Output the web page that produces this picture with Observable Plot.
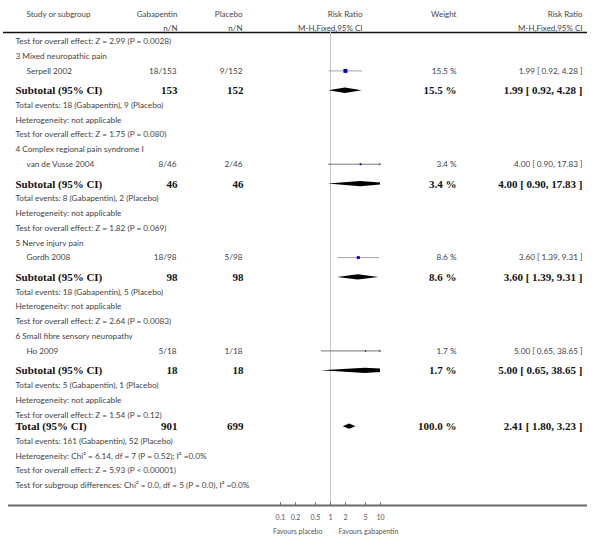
<!DOCTYPE html>
<html>
<head>
<meta charset="utf-8">
<script src="https://cdn.jsdelivr.net/npm/d3@7"></script>
<script src="https://cdn.jsdelivr.net/npm/@observablehq/plot@0.6"></script>
<style>
  html, body { margin: 0; padding: 0; background: #fff; }
  #chart svg { display: block; }
</style>
</head>
<body>
<div id="chart"></div>
<script>
// ---------- data ----------
const carryOver = "Test for overall effect: Z = 2.99 (P = 0.0028)";
const groups = ["3 Mixed neuropathic pain", "4 Complex regional pain syndrome I", "5 Nerve injury pain", "6 Small fibre sensory neuropathy"];
const studies = ["Serpell 2002", "van de Vusse 2004", "Gordh 2008", "Ho 2009"];
const gabaEvents = [18, 8, 18, 5];
const gabaTotal = [153, 46, 98, 18];
const placEvents = [9, 2, 5, 1];
const placTotal = [152, 46, 98, 18];
const rr = [1.99, 4.00, 3.60, 5.00];
const rrLow = [0.92, 0.90, 1.39, 0.65];
const rrHigh = [4.28, 17.83, 9.31, 38.65];
const weights = [15.5, 3.4, 8.6, 1.7];
const overallTests = ["Z = 1.75 (P = 0.080)", "Z = 1.82 (P = 0.069)", "Z = 2.64 (P = 0.0083)", "Z = 1.54 (P = 0.12)"];
const totalN = [901, 699];
const totalEvents = [161, 52];
const totalRR = [2.41, 1.80, 3.23];
const totalWeight = 100.0;
const totalHet = "Heterogeneity: Chi\u00B2 = 6.14, df = 7 (P = 0.52); I\u00B2 =0.0%";
const totalTest = "Test for overall effect: Z = 5.93 (P < 0.00001)";
const subgroupTest = "Test for subgroup differences: Chi\u00B2 = 0.0, df = 5 (P = 0.0), I\u00B2 =0.0%";
const tickValues = [0.1, 0.2, 0.5, 1, 2, 5, 10];
const tickLabels = ["0.1", "0.2", "0.5", "1", "2", "5", "10"];
const headers1 = ["Study or subgroup", "Gabapentin", "Placebo", "Risk Ratio", "Weight", "Risk Ratio"];
const headers2 = ["", "n/N", "n/N", "M-H,Fixed,95% CI", "", "M-H,Fixed,95% CI"];
const favours = ["Favours placebo", "Favours gabapentin"];

// ---------- layout ----------
const W = 601, H = 554;
const SANS = "Lato, 'Open Sans', 'DejaVu Sans', sans-serif";
const SERIF = "'Liberation Serif', 'Times New Roman', serif";
const TXT = "#444";
const SMALL = 8.2, BIG = 11;
const col = {note: 15, study: 26, gaba: 176, plac: 242, rrHead: 362, weight: 456, rrText: 582};
const headerCols = [{dx: col.study, a: "start"}, {dx: 177, a: "end"}, {dx: col.plac, a: "end"}, {dx: col.rrHead, a: "end"}, {dx: col.weight, a: "end"}, {dx: col.rrText, a: "end"}];
const diamondHalf = 0.18; // in row units
const xMax = 10, xMin = 0.1;

const fmtRR = (m, l, h) => `${m.toFixed(2)} [ ${l.toFixed(2)}, ${h.toFixed(2)} ]`;

// ---------- rows ----------
const rows = [];
let u = 0;
rows.push({kind: "note", y: u, label: carryOver});
const add = (step, r) => { u += step; r.y = u; rows.push(r); return r; };
const studyRows = [], subRows = [];
groups.forEach((g, i) => {
  add(1, {kind: "note", label: g});
  studyRows.push(add(1, {kind: "study", label: studies[i], gaba: `${gabaEvents[i]}/${gabaTotal[i]}`, plac: `${placEvents[i]}/${placTotal[i]}`,
    weight: `${weights[i].toFixed(1)} %`, rrText: fmtRR(rr[i], rrLow[i], rrHigh[i]), m: rr[i], lo: rrLow[i], hi: rrHigh[i], w: weights[i]}));
  subRows.push(add(1.35, {kind: "sub", label: "Subtotal (95% CI)", gaba: String(gabaTotal[i]), plac: String(placTotal[i]),
    weight: `${weights[i].toFixed(1)} %`, rrText: fmtRR(rr[i], rrLow[i], rrHigh[i]), m: rr[i], lo: rrLow[i], hi: rrHigh[i]}));
  add(1, {kind: "note", label: `Total events: ${gabaEvents[i]} (Gabapentin), ${placEvents[i]} (Placebo)`});
  add(1, {kind: "note", label: "Heterogeneity: not applicable"});
  add(1, {kind: "note", label: `Test for overall effect: ${overallTests[i]}`});
});
subRows.push(add(0.8, {kind: "sub", label: "Total (95% CI)", gaba: String(totalN[0]), plac: String(totalN[1]),
  weight: `${totalWeight.toFixed(1)} %`, rrText: fmtRR(totalRR[0], totalRR[1], totalRR[2]), m: totalRR[0], lo: totalRR[1], hi: totalRR[2]}));
add(1, {kind: "note", label: `Total events: ${totalEvents[0]} (Gabapentin), ${totalEvents[1]} (Placebo)`});
add(1, {kind: "note", label: totalHet});
add(1, {kind: "note", label: totalTest});
add(1, {kind: "note", label: subgroupTest});

// diamonds (clipped to the axis range, in log space)
const diamondPts = [];
subRows.forEach((r, k) => {
  const L = Math.log10, m = L(r.m), b = L(r.hi);
  const pts = [[r.lo, 0], [r.m, diamondHalf]];
  if (r.hi > xMax) {
    const t = (L(xMax) - m) / (b - m);
    pts.push([xMax, diamondHalf * (1 - t)]);
  } else pts.push([r.hi, 0]);
  pts.forEach(([x, h]) => diamondPts.push({id: k, x, y1: r.y - h, y2: r.y + h}));
});
const ciFull = studyRows.filter(r => r.hi <= xMax);
const ciClip = studyRows.filter(r => r.hi > xMax);

const marginTop = 32, marginBottom = 49;
const rowPx = 14.7, firstRowPx = 41;
const yDomain = [(marginTop - firstRowPx) / rowPx, (H - marginBottom - firstRowPx) / rowPx];

const textBase = {fontFamily: SANS, fontSize: SMALL, fill: TXT, frameAnchor: "left"};
const notes = rows.filter(r => r.kind === "note");
const subs = rows.filter(r => r.kind === "sub");

const chart = Plot.plot({
  width: W, height: H,
  marginTop, marginBottom, marginLeft: 0, marginRight: 0,
  style: {background: "#fff"},
  x: {type: "log", domain: [xMin, xMax], range: [280, 380], axis: null},
  y: {domain: yDomain, range: [marginTop, H - marginBottom], axis: null},
  r: {type: "sqrt", domain: [0, 100], range: [0, 5.7]},
  marks: [
    ...headers1.map((h, i) => Plot.text([h], {text: d => d, frameAnchor: "top-left", dx: headerCols[i].dx, dy: -21,
      textAnchor: headerCols[i].a, fontFamily: SANS, fontSize: 8, fill: TXT})),
    ...headers2.map((h, i) => Plot.text([h], {text: d => d, frameAnchor: "top-left", dx: headerCols[i].dx, dy: -7,
      textAnchor: headerCols[i].a, fontFamily: SANS, fontSize: 8, fill: TXT})),
    Plot.ruleY([yDomain[0]], {stroke: "#111", strokeWidth: 1.3, insetLeft: 3, insetRight: 14}),
    Plot.ruleX([1], {stroke: "#c4c4c4", strokeWidth: 1}),
    Plot.text(notes, {...textBase, y: "y", text: "label", textAnchor: "start", dx: col.note}),
    Plot.text(studyRows, {...textBase, y: "y", text: "label", textAnchor: "start", dx: col.study}),
    Plot.text(studyRows, {...textBase, y: "y", text: "gaba", textAnchor: "end", dx: col.gaba}),
    Plot.text(studyRows, {...textBase, y: "y", text: "plac", textAnchor: "end", dx: col.plac}),
    Plot.text(studyRows, {...textBase, y: "y", text: "weight", textAnchor: "end", dx: col.weight}),
    Plot.text(studyRows, {...textBase, y: "y", text: "rrText", textAnchor: "end", dx: col.rrText}),
    ...["label", "gaba", "plac", "weight", "rrText"].map(key => Plot.text(subs, {
      y: "y", text: key, frameAnchor: "left", fontFamily: SERIF, fontSize: BIG, fontWeight: "bold", fill: "#111",
      textAnchor: key === "label" ? "start" : "end",
      dx: key === "label" ? col.note : key === "gaba" ? 177 : key === "plac" ? 243 : col[key]
    })),
    Plot.link(ciFull, {x1: "lo", x2: "hi", y1: "y", y2: "y", stroke: "#8a8a8a", strokeWidth: 0.8}),
    Plot.arrow(ciClip, {x1: "lo", x2: () => xMax, y1: "y", y2: "y", stroke: "#555", strokeWidth: 0.8, headLength: 3}),
    Plot.dot(studyRows, {x: "m", y: "y", r: "w", symbol: "square", fill: "#0000c8", stroke: null}),
    Plot.areaY(diamondPts, {x: "x", y1: "y1", y2: "y2", z: "id", fill: "#000", curve: "linear"}),
    Plot.ruleY([yDomain[1]], {stroke: "#6a6a6a", strokeWidth: 2, insetLeft: 8, insetRight: 14}),
    Plot.tickX(tickValues, {x: d => d, stroke: "#555", strokeWidth: 0.8, insetTop: (H - marginBottom - marginTop) - 3}),
    Plot.axisX({ticks: tickValues, tickFormat: d => tickLabels[tickValues.indexOf(d)], tickSize: 0, tickPadding: 10,
      fontSize: 7, fontFamily: SANS, color: "#555", anchor: "bottom", label: null}),
    Plot.text([favours[0]], {x: () => 1, text: d => d, frameAnchor: "bottom", dy: 28, dx: -8,
      textAnchor: "end", fontFamily: SANS, fontSize: 7, fill: "#555"}),
    Plot.text([favours[1]], {x: () => 1, text: d => d, frameAnchor: "bottom", dy: 28, dx: 8,
      textAnchor: "start", fontFamily: SANS, fontSize: 7, fill: "#555"}),
  ]
});
document.getElementById("chart").appendChild(chart);
</script>
</body>
</html>
